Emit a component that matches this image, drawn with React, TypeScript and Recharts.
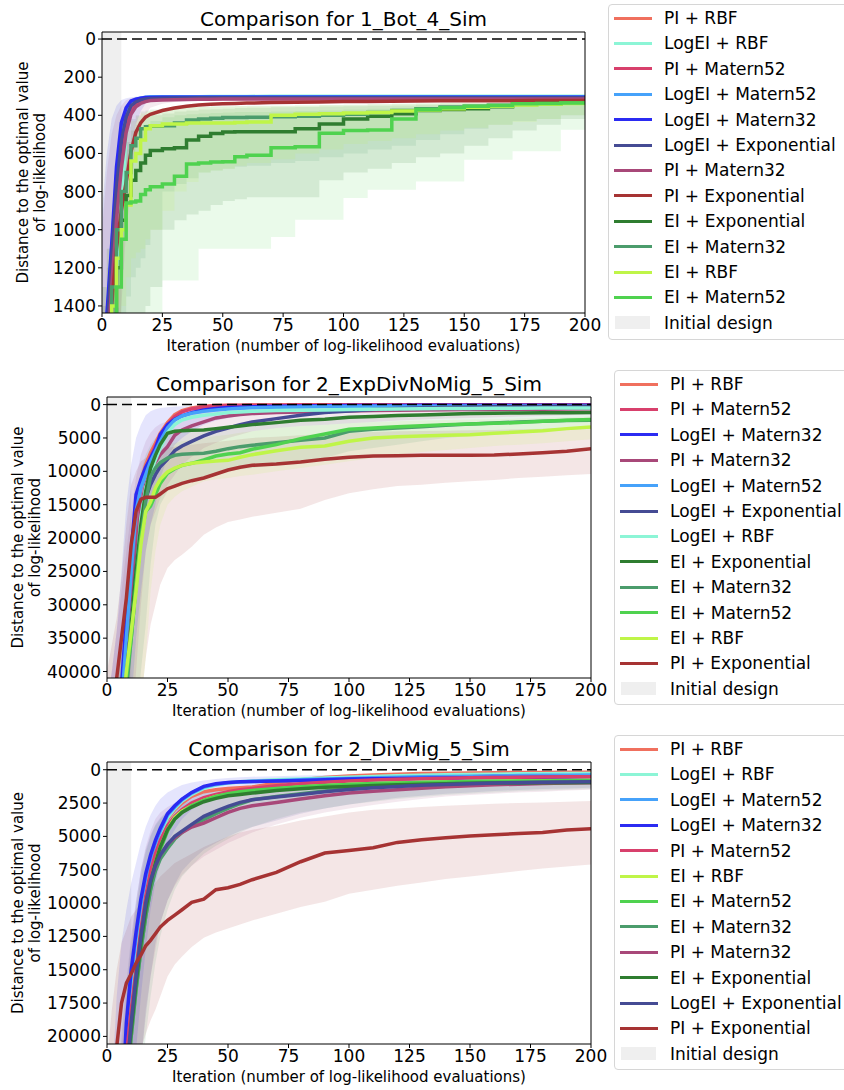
import React from 'react';
import { ComposedChart, Line, Area, XAxis, YAxis, ReferenceArea, ReferenceLine } from 'recharts';

const FONT = '"DejaVu Sans", sans-serif';

// ---------- method names and colours ----------
const LABELS: Record<string, string> = {
  piRbf: 'PI + RBF',
  logeiRbf: 'LogEI + RBF',
  piM52: 'PI + Matern52',
  logeiM52: 'LogEI + Matern52',
  logeiM32: 'LogEI + Matern32',
  logeiExp: 'LogEI + Exponential',
  piM32: 'PI + Matern32',
  piExp: 'PI + Exponential',
  eiExp: 'EI + Exponential',
  eiM32: 'EI + Matern32',
  eiRbf: 'EI + RBF',
  eiM52: 'EI + Matern52',
};

const COLORS: Record<string, string> = {
  piRbf: '#f0705e',
  logeiRbf: '#8cf5d6',
  piM52: '#d8406c',
  logeiM52: '#46a2fa',
  logeiM32: '#2b2bf2',
  logeiExp: '#454b94',
  piM32: '#a84879',
  piExp: '#a63333',
  eiExp: '#2f7d30',
  eiM32: '#4b9c6c',
  eiRbf: '#bff548',
  eiM52: '#4fd24f',
};

const X_TICKS = [0, 25, 50, 75, 100, 125, 150, 175, 200];
const X_LABEL = 'Iteration (number of log-likelihood evaluations)';

// ---------- 1_Bot_4_Sim ----------
const bot4Iter = [0, 2, 4, 6, 8, 10, 12, 14, 16, 18, 20, 25, 30, 35, 40, 45, 50, 55, 60, 70, 80, 90, 100, 110, 120, 130, 140, 150, 160, 170, 180, 190, 200];
const bot4Ticks = [0, 200, 400, 600, 800, 1000, 1200, 1400];
const bot4Order = ['piRbf', 'logeiRbf', 'piM52', 'logeiM52', 'logeiM32', 'logeiExp', 'piM32', 'piExp', 'eiExp', 'eiM32', 'eiRbf', 'eiM52'];
const bot4Stepped = ['eiExp', 'eiM32', 'eiRbf', 'eiM52'];

const bot4PiRbf = [2400, 1600, 1200, 850, 600, 440, 370, 340, 325, 318, 315, 313, 312, 312, 311, 311, 311, 311, 310, 310, 310, 310, 310, 310, 310, 310, 310, 310, 310, 310, 310, 310, 310];
const bot4LogeiRbf = [2000, 1600, 1290, 1200, 900, 490, 370, 330, 315, 310, 306, 304, 303, 302, 302, 301, 301, 301, 301, 300, 300, 300, 300, 300, 300, 300, 300, 300, 300, 300, 300, 300, 300];
const bot4PiM52 = [2400, 1650, 1250, 900, 640, 460, 380, 345, 332, 322, 318, 315, 314, 313, 313, 313, 312, 312, 312, 312, 312, 312, 312, 312, 312, 312, 312, 312, 312, 312, 312, 312, 312];
const bot4LogeiM52 = [2300, 1500, 1100, 720, 480, 380, 335, 318, 310, 305, 303, 302, 302, 302, 302, 302, 302, 302, 302, 302, 302, 302, 302, 302, 302, 302, 302, 302, 302, 302, 302, 302, 302];
const bot4LogeiM32 = [2200, 1450, 1080, 670, 440, 360, 325, 315, 310, 307, 306, 305, 305, 305, 305, 305, 305, 305, 305, 305, 305, 305, 305, 305, 305, 305, 305, 305, 305, 305, 305, 305, 305];
const bot4LogeiExp = [2300, 1550, 1150, 780, 540, 410, 350, 330, 320, 315, 312, 310, 309, 309, 308, 308, 308, 308, 308, 308, 308, 308, 308, 308, 308, 308, 308, 308, 308, 308, 308, 308, 308];
const bot4PiM32 = [2400, 1700, 1300, 950, 680, 490, 395, 355, 338, 328, 322, 320, 318, 317, 316, 316, 315, 315, 315, 315, 315, 315, 315, 315, 315, 315, 315, 315, 315, 315, 315, 315, 315];
const bot4PiExp = [2500, 1800, 1400, 1100, 900, 750, 590, 490, 440, 410, 395, 375, 362, 352, 346, 342, 340, 338, 336, 333, 331, 330, 328, 327, 326, 325, 324, 324, 323, 323, 322, 322, 322];
const bot4EiExp = [2600, 2000, 1500, 1200, 950, 820, 740, 690, 650, 610, 585, 575, 570, 530, 510, 495, 488, 486, 486, 486, 470, 446, 420, 405, 392, 375, 370, 365, 355, 340, 338, 336, 335];
const bot4EiM32 = [2500, 1800, 1300, 1000, 800, 700, 560, 520, 470, 460, 458, 455, 440, 425, 420, 415, 412, 411, 410, 408, 405, 400, 395, 385, 375, 365, 357, 352, 347, 343, 340, 337, 335];
const bot4EiRbf = [2500, 1800, 1400, 1150, 1000, 870, 640, 600, 530, 470, 455, 445, 445, 440, 440, 440, 440, 438, 435, 400, 395, 392, 388, 385, 378, 372, 365, 358, 352, 346, 342, 338, 335];
const bot4EiM52 = [2600, 2000, 1600, 1300, 1050, 860, 855, 850, 815, 790, 775, 760, 720, 655, 650, 645, 644, 617, 610, 570, 565, 494, 480, 477, 420, 370, 360, 352, 348, 340, 338, 336, 335];

const bot4EiM52Lo = [1500, 1300, 1100, 850, 650, 580, 520, 490, 460, 445, 430, 410, 400, 395, 390, 388, 385, 383, 382, 380, 378, 375, 370, 365, 360, 355, 350, 345, 340, 338, 335, 332, 330];
const bot4EiM52Hi = [3000, 2900, 2800, 2600, 2400, 2200, 2000, 1850, 1700, 1600, 1500, 1266, 1266, 1266, 1100, 1100, 1100, 1100, 1100, 1038, 948, 948, 834, 790, 790, 747, 747, 633, 633, 589, 589, 476, 440];
const bot4EiExpLo = [1400, 1200, 1000, 800, 600, 540, 480, 450, 420, 410, 400, 390, 380, 375, 370, 368, 365, 362, 360, 358, 356, 354, 352, 350, 348, 345, 342, 340, 338, 335, 333, 332, 330];
const bot4EiExpHi = [3000, 2800, 2600, 2300, 2000, 1850, 1700, 1600, 1500, 1400, 1300, 1000, 950, 920, 900, 870, 850, 840, 830, 830, 830, 740, 700, 680, 650, 620, 600, 560, 520, 480, 450, 420, 400];
const bot4EiM32Lo = [1300, 1100, 900, 700, 500, 460, 420, 400, 380, 375, 370, 362, 358, 356, 355, 353, 352, 351, 350, 350, 348, 346, 344, 342, 340, 338, 336, 335, 334, 333, 332, 331, 330];
const bot4EiM32Hi = [2500, 2200, 2000, 1700, 1500, 1350, 1250, 1200, 1150, 1080, 1000, 800, 760, 730, 700, 690, 680, 670, 665, 650, 640, 620, 600, 580, 560, 530, 500, 470, 450, 430, 420, 400, 380];
const bot4EiRbfLo = [1300, 1100, 950, 750, 550, 480, 430, 405, 390, 380, 375, 365, 360, 358, 356, 355, 354, 353, 352, 350, 348, 346, 344, 342, 340, 338, 336, 334, 333, 332, 331, 330, 330];
const bot4EiRbfHi = [2500, 2200, 1900, 1650, 1400, 1250, 1150, 1120, 1100, 1050, 1000, 900, 800, 750, 700, 690, 680, 665, 650, 630, 600, 580, 550, 535, 520, 500, 480, 465, 450, 435, 420, 400, 380];
const bot4LogeiM32Lo = [900, 600, 420, 350, 320, 310, 305, 302, 300, 299, 298, 298, 298, 298, 298, 298, 298, 298, 298, 298, 298, 298, 298, 298, 298, 298, 298, 298, 298, 298, 298, 298, 298];
const bot4LogeiM32Hi = [3000, 2400, 1800, 1400, 1100, 800, 600, 450, 380, 340, 325, 315, 312, 310, 310, 310, 310, 310, 310, 310, 310, 310, 310, 310, 310, 310, 310, 310, 310, 310, 310, 310, 310];
const bot4PiM32Lo = [1000, 700, 500, 400, 350, 320, 310, 305, 303, 302, 301, 300, 300, 300, 300, 300, 300, 300, 300, 300, 300, 300, 300, 300, 300, 300, 300, 300, 300, 300, 300, 300, 300];
const bot4PiM32Hi = [3000, 2600, 2200, 1800, 1400, 1000, 800, 550, 450, 400, 360, 340, 330, 325, 322, 320, 320, 320, 320, 320, 320, 320, 320, 320, 320, 320, 320, 320, 320, 320, 320, 320, 320];

// ---------- 2_ExpDivNoMig_5_Sim ----------
const expIter = [0, 2, 4, 6, 8, 10, 12, 14, 16, 18, 20, 22, 25, 28, 31, 35, 40, 45, 50, 55, 60, 70, 80, 90, 100, 110, 120, 130, 140, 150, 160, 170, 180, 190, 200];
const expTicks = [0, 5000, 10000, 15000, 20000, 25000, 30000, 35000, 40000];
const expOrder = ['piRbf', 'piM52', 'logeiM32', 'piM32', 'logeiM52', 'logeiExp', 'logeiRbf', 'eiExp', 'eiM32', 'eiM52', 'eiRbf', 'piExp'];

const expPiRbf = [70000, 62000, 54000, 46000, 37000, 26000, 15000, 11500, 9000, 7200, 5800, 4300, 2700, 1500, 900, 500, 250, 150, 100, 80, 60, 50, 40, 30, 25, 20, 20, 15, 15, 10, 10, 10, 10, 10, 10];
const expPiM52 = [70000, 62000, 55000, 47000, 38000, 28000, 17000, 12500, 9800, 7800, 6200, 4800, 3000, 1800, 1100, 650, 350, 220, 150, 120, 100, 80, 60, 50, 40, 35, 30, 25, 20, 20, 15, 15, 15, 15, 15];
const expLogeiM32 = [68000, 60000, 52000, 42000, 32000, 22000, 13500, 11200, 9400, 8000, 6600, 4500, 3000, 2200, 1700, 1200, 800, 600, 450, 380, 320, 250, 200, 170, 150, 130, 120, 110, 100, 100, 90, 90, 85, 80, 80];
const expLogeiM52 = [70000, 62000, 54000, 45000, 35000, 25000, 16000, 12500, 10500, 8500, 7000, 5500, 3500, 2300, 1700, 1300, 1000, 800, 650, 550, 480, 400, 350, 300, 280, 260, 250, 240, 230, 220, 210, 200, 200, 190, 190];
const expLogeiRbf = [72000, 64000, 57000, 50000, 42000, 33000, 26000, 17000, 12500, 10200, 8300, 6500, 4200, 3000, 2300, 1900, 1600, 1400, 1200, 1100, 1000, 900, 850, 800, 750, 700, 650, 620, 600, 580, 560, 540, 520, 510, 500];
const expPiM32 = [72000, 64000, 56000, 48000, 40000, 31000, 22000, 15500, 12000, 10000, 8600, 7500, 6300, 4600, 3800, 3200, 2600, 2000, 1700, 1500, 1350, 1200, 1100, 1000, 950, 900, 850, 800, 780, 750, 720, 700, 680, 650, 620];
const expLogeiExp = [73000, 65000, 57000, 49000, 41000, 33000, 25000, 17500, 14000, 12000, 10500, 9300, 8200, 6900, 6200, 5500, 4700, 4000, 3500, 3000, 2600, 2100, 1600, 1200, 950, 750, 600, 500, 430, 380, 330, 300, 270, 250, 230];
const expEiExp = [72000, 64000, 56000, 48000, 41000, 33000, 25000, 18000, 13000, 9500, 7600, 6000, 4300, 4000, 3900, 3850, 3800, 3600, 3400, 3200, 3000, 2700, 2350, 2200, 1900, 1800, 1650, 1550, 1450, 1350, 1300, 1250, 1230, 1210, 1200];
const expEiM32 = [74000, 66000, 58000, 50000, 43000, 35000, 27000, 20000, 14500, 10800, 9500, 8700, 8000, 7600, 7450, 7350, 7300, 7000, 6600, 6300, 6100, 5700, 5350, 5000, 4000, 3700, 3500, 3300, 3100, 2900, 2750, 2600, 2500, 2400, 2350];
const expEiM52 = [72000, 64000, 56000, 48000, 41000, 35000, 27000, 20000, 16000, 15200, 13500, 11800, 10300, 9600, 9100, 8800, 8300, 7700, 7400, 7200, 6700, 6000, 5100, 4400, 3700, 3500, 3300, 3150, 3000, 2900, 2800, 2700, 2500, 2350, 2250];
const expEiRbf = [70000, 62000, 54000, 47000, 40000, 34000, 28000, 21000, 16000, 14600, 12500, 11200, 10100, 9500, 9100, 8800, 8600, 8450, 8350, 7900, 7500, 6900, 6400, 6200, 5500, 5000, 4800, 4700, 4600, 4500, 4300, 4100, 3900, 3600, 3350];
const expPiExp = [60000, 50000, 41000, 35000, 29000, 21000, 16000, 14200, 13900, 13900, 13900, 13400, 12600, 12200, 11800, 11400, 11000, 10400, 9800, 9400, 9100, 8900, 8600, 8200, 7900, 7700, 7650, 7600, 7600, 7600, 7550, 7400, 7200, 7000, 6600];

const expPiExpLo = [40000, 36000, 32000, 26000, 18000, 12000, 10000, 8500, 8000, 7500, 7000, 6800, 6500, 6300, 6100, 6000, 5800, 5600, 5400, 5200, 5000, 4800, 4600, 4400, 4200, 4100, 4000, 3950, 3900, 3850, 3800, 3700, 3600, 3500, 3400];
const expPiExpHi = [80000, 76000, 72000, 66000, 60000, 55000, 50000, 45000, 38000, 33000, 30000, 27000, 24500, 23300, 22500, 21300, 19500, 18400, 17600, 17200, 16800, 16200, 15600, 14300, 13300, 12700, 12200, 12000, 11700, 11500, 11300, 11000, 10800, 10600, 10400];
const expEiRbfLo = [50000, 46000, 42000, 36000, 30000, 25000, 20000, 15000, 11000, 8500, 7500, 6800, 6000, 5700, 5500, 5300, 5000, 4700, 4500, 4200, 4000, 3500, 3200, 3000, 2800, 2650, 2500, 2400, 2300, 2250, 2200, 2100, 2000, 1900, 1800];
const expEiRbfHi = [90000, 86000, 82000, 75000, 68000, 60000, 52000, 45000, 38000, 28000, 22000, 18000, 15000, 13800, 13000, 12300, 11500, 11200, 11000, 10700, 10500, 10000, 9500, 9000, 8500, 8000, 7500, 7100, 6800, 6500, 6200, 6000, 5800, 5500, 5200];
const expEiM32Lo = [48000, 44000, 40000, 34000, 27000, 20000, 15000, 10000, 7500, 6000, 5000, 4500, 4000, 3900, 3800, 3700, 3600, 3500, 3400, 3250, 3100, 2800, 2500, 2200, 1900, 1750, 1600, 1500, 1400, 1350, 1300, 1250, 1200, 1150, 1100];
const expEiM32Hi = [90000, 85000, 78000, 70000, 62000, 55000, 48000, 40000, 33000, 24000, 18000, 15000, 13000, 12500, 12000, 11500, 11000, 10500, 10000, 9700, 9500, 9000, 8500, 8000, 7000, 6500, 6000, 5500, 5000, 4700, 4500, 4200, 4000, 3800, 3600];
const expPiM32Lo = [45000, 40000, 34000, 28000, 22000, 16000, 11000, 7500, 5500, 4200, 3400, 2900, 2500, 2100, 1800, 1500, 1200, 1000, 800, 700, 600, 500, 400, 350, 300, 280, 250, 220, 200, 200, 180, 170, 150, 150, 150];
const expPiM32Hi = [90000, 84000, 76000, 66000, 58000, 50000, 40000, 30000, 22000, 18000, 16000, 14000, 12000, 10500, 9000, 7800, 6500, 5700, 5000, 4500, 4000, 3500, 3200, 3000, 2800, 2600, 2400, 2250, 2100, 2000, 1900, 1800, 1700, 1600, 1500];
const expLogeiM32Lo = [45000, 40000, 34000, 25000, 15000, 9000, 5000, 3000, 1600, 1000, 700, 500, 400, 300, 250, 200, 150, 120, 100, 80, 50, 40, 30, 20, 20, 15, 10, 10, 10, 10, 10, 10, 10, 10, 10];
const expLogeiM32Hi = [90000, 82000, 72000, 60000, 52000, 45000, 35000, 28000, 22000, 18000, 15000, 11000, 8000, 6000, 5000, 4000, 3000, 2400, 2000, 1700, 1500, 1200, 1000, 900, 800, 700, 600, 550, 500, 480, 450, 420, 400, 380, 350];

// ---------- 2_DivMig_5_Sim ----------
const divIter = [0, 2, 4, 6, 8, 10, 12, 14, 16, 18, 20, 22, 25, 28, 31, 35, 40, 45, 50, 55, 60, 70, 80, 90, 100, 110, 120, 130, 140, 150, 160, 170, 180, 190, 200];
const divTicks = [0, 2500, 5000, 7500, 10000, 12500, 15000, 17500, 20000];
const divOrder = ['piRbf', 'logeiRbf', 'logeiM52', 'logeiM32', 'piM52', 'eiRbf', 'eiM52', 'eiM32', 'piM32', 'eiExp', 'logeiExp', 'piExp'];

const divPiExp = [28000, 24000, 20800, 17500, 16000, 15300, 14500, 13900, 13200, 12800, 12300, 11800, 11300, 10900, 10500, 9950, 9700, 9000, 8850, 8600, 8250, 7700, 6900, 6250, 6050, 5850, 5450, 5250, 5100, 4970, 4870, 4780, 4700, 4520, 4420];
const divLogeiM32 = [45000, 40000, 34000, 26000, 19000, 15000, 12200, 9700, 7800, 6400, 5300, 4400, 3300, 2700, 2200, 1700, 1250, 1050, 950, 900, 880, 850, 800, 750, 700, 680, 650, 630, 620, 600, 590, 580, 570, 560, 550];
const divLogeiM52 = [45000, 40000, 34000, 26500, 19500, 15500, 12600, 10100, 8100, 6700, 5500, 4600, 3400, 2800, 2250, 1750, 1300, 1100, 980, 920, 880, 820, 760, 700, 650, 600, 560, 530, 500, 480, 460, 440, 420, 410, 400];
const divLogeiRbf = [46000, 41000, 35000, 27000, 20000, 16000, 13000, 10500, 8500, 7000, 5800, 4800, 3600, 2900, 2350, 1850, 1400, 1150, 1000, 900, 850, 760, 700, 620, 560, 500, 450, 410, 380, 350, 330, 310, 300, 290, 280];
const divPiRbf = [46000, 41000, 35000, 28000, 21000, 17500, 14500, 11500, 9000, 7000, 5800, 4600, 3700, 3000, 2500, 2000, 1650, 1500, 1400, 1350, 1300, 1000, 750, 580, 470, 390, 330, 290, 260, 240, 220, 210, 200, 190, 180];
const divPiM52 = [46000, 41000, 35000, 28500, 21500, 18000, 15000, 12000, 9500, 7600, 6300, 5300, 4200, 3500, 3000, 2500, 2100, 1850, 1650, 1500, 1400, 1200, 1050, 930, 840, 770, 715, 675, 640, 610, 590, 570, 550, 530, 520];
const divEiRbf = [47000, 42000, 36000, 30000, 23000, 19500, 16000, 13000, 10500, 8500, 7000, 5800, 4500, 3600, 3100, 2700, 2300, 2000, 1850, 1750, 1650, 1450, 1300, 1200, 1100, 1050, 1000, 960, 920, 890, 860, 840, 820, 800, 790];
const divEiM52 = [47000, 42000, 36000, 30500, 23500, 20000, 16500, 13500, 11000, 9000, 7400, 6000, 4600, 3700, 3200, 2700, 2300, 2000, 1800, 1650, 1550, 1400, 1280, 1180, 1100, 1040, 990, 950, 920, 890, 870, 850, 840, 830, 820];
const divEiM32 = [48000, 43000, 37000, 31000, 24000, 20000, 16500, 13500, 11000, 9000, 7600, 6700, 5900, 5200, 4700, 4200, 3750, 3300, 2900, 2550, 2250, 2000, 1800, 1600, 1450, 1300, 1200, 1120, 1060, 1010, 970, 940, 920, 900, 880];
const divPiM32 = [47000, 42000, 36000, 30000, 23000, 19000, 15500, 12500, 10000, 8300, 7200, 6400, 5600, 5100, 4700, 4300, 4000, 3600, 3200, 2900, 2700, 2450, 2200, 1950, 1750, 1620, 1500, 1380, 1280, 1200, 1130, 1080, 1040, 1000, 970];
const divEiExp = [47000, 42000, 36000, 30000, 23000, 19500, 16000, 13000, 10500, 8500, 7000, 5800, 4500, 3700, 3200, 2800, 2400, 2150, 1950, 1850, 1750, 1550, 1420, 1320, 1250, 1180, 1120, 1080, 1050, 1020, 1000, 990, 980, 970, 960];
const divLogeiExp = [47000, 42000, 36000, 30000, 23000, 19000, 15500, 12500, 10000, 8300, 7200, 6400, 5600, 5000, 4600, 4100, 3500, 3100, 2750, 2450, 2250, 2050, 1850, 1650, 1480, 1350, 1250, 1170, 1100, 1050, 1000, 970, 940, 920, 900];

const divPiExpLo = [22000, 18000, 15000, 13000, 12000, 11000, 10500, 10000, 9500, 9000, 8500, 8000, 7500, 7000, 6700, 6300, 5800, 5400, 5000, 4700, 4500, 4200, 3800, 3500, 3200, 3000, 2900, 2800, 2700, 2620, 2550, 2500, 2450, 2400, 2350];
const divPiExpHi = [30000, 28000, 26500, 25500, 24500, 24000, 22500, 21000, 19800, 18800, 18000, 17000, 15500, 14600, 14000, 13300, 12600, 12200, 11900, 11600, 11300, 10800, 10300, 9900, 9300, 9000, 8700, 8450, 8200, 8000, 7800, 7600, 7400, 7250, 7100];
const divEiM32Lo = [35000, 31000, 27000, 23000, 18000, 13500, 10500, 8000, 6200, 5000, 4200, 3700, 3200, 2800, 2450, 2100, 1750, 1550, 1350, 1250, 1150, 980, 870, 770, 710, 660, 610, 585, 555, 535, 520, 510, 500, 490, 480];
const divEiM32Hi = [50000, 48000, 46000, 42000, 38000, 33000, 28000, 24000, 20000, 17000, 14500, 12500, 10500, 9000, 8000, 7200, 6300, 5700, 5200, 4700, 4300, 3700, 3200, 2900, 2600, 2400, 2200, 2050, 1900, 1800, 1700, 1620, 1550, 1500, 1450];
const divPiM32Lo = [35000, 31000, 26500, 21000, 17000, 13000, 10000, 7500, 5800, 4600, 3700, 3200, 2800, 2500, 2250, 2050, 1750, 1580, 1420, 1300, 1200, 1050, 900, 800, 720, 670, 620, 590, 560, 540, 520, 500, 490, 480, 470];
const divPiM32Hi = [50000, 48000, 45000, 40000, 35000, 30000, 26000, 22000, 18000, 15500, 13500, 11500, 9800, 8700, 7900, 7200, 6500, 6000, 5500, 5100, 4700, 4100, 3600, 3200, 2900, 2650, 2400, 2200, 2000, 1900, 1800, 1700, 1650, 1550, 1500];
const divLogeiM32Lo = [30000, 24000, 17000, 13000, 10500, 8500, 7000, 5500, 4300, 3400, 2700, 2200, 1700, 1400, 1150, 950, 800, 700, 620, 560, 520, 480, 440, 400, 370, 350, 340, 330, 320, 315, 310, 305, 300, 295, 290];
const divLogeiM32Hi = [50000, 47000, 43000, 37000, 31000, 26000, 21000, 17000, 13500, 10500, 8500, 7000, 5500, 4500, 3700, 3000, 2400, 2100, 1900, 1750, 1650, 1480, 1320, 1200, 1100, 1020, 950, 900, 850, 820, 800, 780, 760, 740, 730];
const divLogeiExpLo = [33000, 29000, 25000, 20000, 16000, 12500, 9800, 7600, 6000, 4900, 4100, 3600, 3100, 2800, 2600, 2300, 2000, 1800, 1600, 1500, 1400, 1200, 1050, 950, 870, 810, 760, 720, 690, 660, 640, 620, 600, 580, 570];
const divLogeiExpHi = [50000, 48000, 45000, 40000, 35000, 30000, 26000, 22000, 18500, 15500, 13000, 11500, 9800, 8600, 7600, 6800, 6000, 5500, 5000, 4600, 4300, 3800, 3300, 2900, 2600, 2350, 2100, 1950, 1800, 1700, 1600, 1520, 1450, 1400, 1350];

// ---------- table builder ----------
type Bands = Record<string, [number[], number[]]>;

function buildRows(iters: number[], lines: Record<string, number[]>, bands: Bands) {
  return iters.map((it, i) => {
    const row: Record<string, any> = { it };
    Object.keys(lines).forEach((k) => {
      row[k] = lines[k][i];
    });
    Object.keys(bands).forEach((k) => {
      row[k + 'Band'] = [bands[k][0][i], bands[k][1][i]];
    });
    return row;
  });
}

function YLabel({ x1, x2, cy }: { x1: number; x2: number; cy: number }) {
  const common = { textAnchor: 'middle' as const, fontSize: 15, fontFamily: FONT, fill: '#000' };
  return (
    <g>
      <text transform={`translate(${x1},${cy}) rotate(-90)`} {...common}>
        Distance to the optimal value
      </text>
      <text transform={`translate(${x2},${cy}) rotate(-90)`} {...common}>
        of log-likelihood
      </text>
    </g>
  );
}

function LegendBox({ order, left, top, height, rowTop }: { order: string[]; left: number; top: number; height: number; rowTop: number }) {
  const rows = order.map((k) => ({ key: k, label: LABELS[k], color: COLORS[k] }));
  return (
    <div
      style={{
        position: 'absolute',
        left,
        top,
        width: 250,
        height,
        border: '1px solid #d6d6d6',
        borderRadius: 4,
        boxSizing: 'border-box',
        background: '#fff',
        fontFamily: FONT,
        fontSize: 17,
        color: '#000',
      }}
    >
      {rows.map((r, i) => (
        <div key={r.key} style={{ position: 'absolute', left: 0, top: rowTop + i * 25.4 - 12, height: 24, width: 245 }}>
          <div style={{ position: 'absolute', left: 5, top: 10.5, width: 38, height: 3, background: r.color }} />
          <div style={{ position: 'absolute', left: 55, top: 0, lineHeight: '24px', whiteSpace: 'nowrap' }}>{r.label}</div>
        </div>
      ))}
      <div style={{ position: 'absolute', left: 0, top: rowTop + 12 * 25.4 - 12, height: 24, width: 245 }}>
        <div style={{ position: 'absolute', left: 6, top: 5.5, width: 35, height: 13, background: '#efefef' }} />
        <div style={{ position: 'absolute', left: 55, top: 0, lineHeight: '24px', whiteSpace: 'nowrap' }}>Initial design</div>
      </div>
    </div>
  );
}

interface PanelProps {
  title: string;
  rows: Record<string, any>[];
  order: string[];
  bandKeys: string[];
  stepped: string[];
  yDomain: [number, number];
  yTicks: number[];
  initEnd: number;
  top: number;
  height: number;
  plotBottom: number;
  yAxisWidth: number;
  plotRight: number;
  yLab: [number, number];
  legendLeft: number;
  legendTop: number;
  legendHeight: number;
}

function Panel(p: PanelProps) {
  const tickStyle = { fontSize: 17, fill: '#000', fontFamily: FONT };
  const plotTop = 32;
  const marginBottom = p.height - p.plotBottom - 40;
  const cy = (plotTop + p.plotBottom) / 2;
  const curveOf = (k: string) => (p.stepped.includes(k) ? 'stepAfter' : 'linear');
  return (
    <div style={{ position: 'absolute', left: 0, top: p.top, width: 844, height: p.height }}>
      <ComposedChart
        width={844}
        height={p.height}
        data={p.rows}
        margin={{ top: plotTop - 1, right: 844 - p.plotRight - 1, bottom: marginBottom, left: 0 }}
      >
        <XAxis
          dataKey="it"
          type="number"
          domain={[0, 200]}
          ticks={X_TICKS}
          interval={0}
          allowDataOverflow
          height={40}
          tick={tickStyle}
          tickSize={4}
          tickLine={{ stroke: '#000' }}
          axisLine={{ stroke: '#000' }}
          label={{ value: X_LABEL, position: 'insideBottom', offset: 2, fontSize: 15, fill: '#000', fontFamily: FONT }}
        />
        <XAxis
          xAxisId="top"
          orientation="top"
          type="number"
          domain={[0, 200]}
          height={1}
          tick={false}
          tickLine={false}
          axisLine={{ stroke: '#000' }}
          label={{ value: p.title, position: 'top', offset: 5, fontSize: 20, fill: '#000', fontFamily: FONT }}
        />
        <YAxis
          type="number"
          domain={p.yDomain}
          reversed
          allowDataOverflow
          ticks={p.yTicks}
          interval={0}
          width={p.yAxisWidth}
          tick={tickStyle}
          tickSize={4}
          tickLine={{ stroke: '#000' }}
          axisLine={{ stroke: '#000' }}
          label={<YLabel x1={p.yLab[0]} x2={p.yLab[1]} cy={cy} />}
        />
        <YAxis
          yAxisId="right"
          orientation="right"
          type="number"
          domain={p.yDomain}
          width={1}
          tick={false}
          tickLine={false}
          axisLine={{ stroke: '#000' }}
        />
        <ReferenceArea x1={0} x2={p.initEnd} fill="#efefef" fillOpacity={1} strokeOpacity={0} ifOverflow="hidden" />
        {p.bandKeys.map((k) => (
          <Area
            key={k + 'Band'}
            dataKey={k + 'Band'}
            type={curveOf(k)}
            stroke="none"
            fill={COLORS[k]}
            fillOpacity={0.12}
            dot={false}
            activeDot={false}
            isAnimationActive={false}
          />
        ))}
        {p.order.map((k) => (
          <Line
            key={k}
            dataKey={k}
            type={curveOf(k)}
            stroke={COLORS[k]}
            strokeWidth={3.5}
            dot={false}
            activeDot={false}
            isAnimationActive={false}
          />
        ))}
        <ReferenceLine y={0} stroke="#000" strokeWidth={1.5} strokeDasharray="10 5" />
      </ComposedChart>
      <LegendBox order={p.order} left={p.legendLeft} top={p.legendTop} height={p.legendHeight} rowTop={13} />
    </div>
  );
}

export default function App() {
  const bot4Rows = buildRows(
    bot4Iter,
    {
      piRbf: bot4PiRbf, logeiRbf: bot4LogeiRbf, piM52: bot4PiM52, logeiM52: bot4LogeiM52,
      logeiM32: bot4LogeiM32, logeiExp: bot4LogeiExp, piM32: bot4PiM32, piExp: bot4PiExp,
      eiExp: bot4EiExp, eiM32: bot4EiM32, eiRbf: bot4EiRbf, eiM52: bot4EiM52,
    },
    {
      eiM52: [bot4EiM52Lo, bot4EiM52Hi],
      eiExp: [bot4EiExpLo, bot4EiExpHi],
      eiM32: [bot4EiM32Lo, bot4EiM32Hi],
      eiRbf: [bot4EiRbfLo, bot4EiRbfHi],
      logeiM32: [bot4LogeiM32Lo, bot4LogeiM32Hi],
      piM32: [bot4PiM32Lo, bot4PiM32Hi],
    }
  );
  const expRows = buildRows(
    expIter,
    {
      piRbf: expPiRbf, piM52: expPiM52, logeiM32: expLogeiM32, piM32: expPiM32,
      logeiM52: expLogeiM52, logeiExp: expLogeiExp, logeiRbf: expLogeiRbf, eiExp: expEiExp,
      eiM32: expEiM32, eiM52: expEiM52, eiRbf: expEiRbf, piExp: expPiExp,
    },
    {
      piExp: [expPiExpLo, expPiExpHi],
      eiRbf: [expEiRbfLo, expEiRbfHi],
      eiM32: [expEiM32Lo, expEiM32Hi],
      piM32: [expPiM32Lo, expPiM32Hi],
      logeiM32: [expLogeiM32Lo, expLogeiM32Hi],
    }
  );
  const divRows = buildRows(
    divIter,
    {
      piRbf: divPiRbf, logeiRbf: divLogeiRbf, logeiM52: divLogeiM52, logeiM32: divLogeiM32,
      piM52: divPiM52, eiRbf: divEiRbf, eiM52: divEiM52, eiM32: divEiM32,
      piM32: divPiM32, eiExp: divEiExp, logeiExp: divLogeiExp, piExp: divPiExp,
    },
    {
      piExp: [divPiExpLo, divPiExpHi],
      eiM32: [divEiM32Lo, divEiM32Hi],
      piM32: [divPiM32Lo, divPiM32Hi],
      logeiM32: [divLogeiM32Lo, divLogeiM32Hi],
      logeiExp: [divLogeiExpLo, divLogeiExpHi],
    }
  );

  return (
    <div style={{ position: 'absolute', left: 0, top: 0, width: 844, height: 1090, overflow: 'hidden', background: '#fff' }}>
      <Panel
        title="Comparison for 1_Bot_4_Sim"
        rows={bot4Rows}
        order={bot4Order}
        bandKeys={['eiM52', 'eiExp', 'eiM32', 'eiRbf', 'logeiM32', 'piM32']}
        stepped={bot4Stepped}
        yDomain={[-37, 1437]}
        yTicks={bot4Ticks}
        initEnd={8}
        top={0}
        height={365}
        plotBottom={313}
        yAxisWidth={102}
        plotRight={585}
        yLab={[27.5, 45]}
        legendLeft={608}
        legendTop={4}
        legendHeight={336}
      />
      <Panel
        title="Comparison for 2_ExpDivNoMig_5_Sim"
        rows={expRows}
        order={expOrder}
        bandKeys={['piExp', 'eiRbf', 'eiM32', 'piM32', 'logeiM32']}
        stepped={[]}
        yDomain={[-1140, 40970]}
        yTicks={expTicks}
        initEnd={10}
        top={365}
        height={365}
        plotBottom={313}
        yAxisWidth={107}
        plotRight={591}
        yLab={[22.5, 40]}
        legendLeft={614}
        legendTop={5}
        legendHeight={335}
      />
      <Panel
        title="Comparison for 2_DivMig_5_Sim"
        rows={divRows}
        order={divOrder}
        bandKeys={['piExp', 'eiM32', 'piM32', 'logeiM32', 'logeiExp']}
        stepped={[]}
        yDomain={[-580, 20570]}
        yTicks={divTicks}
        initEnd={10}
        top={730}
        height={360}
        plotBottom={314}
        yAxisWidth={107}
        plotRight={591}
        yLab={[22.5, 40]}
        legendLeft={614}
        legendTop={5}
        legendHeight={335}
      />
    </div>
  );
}
